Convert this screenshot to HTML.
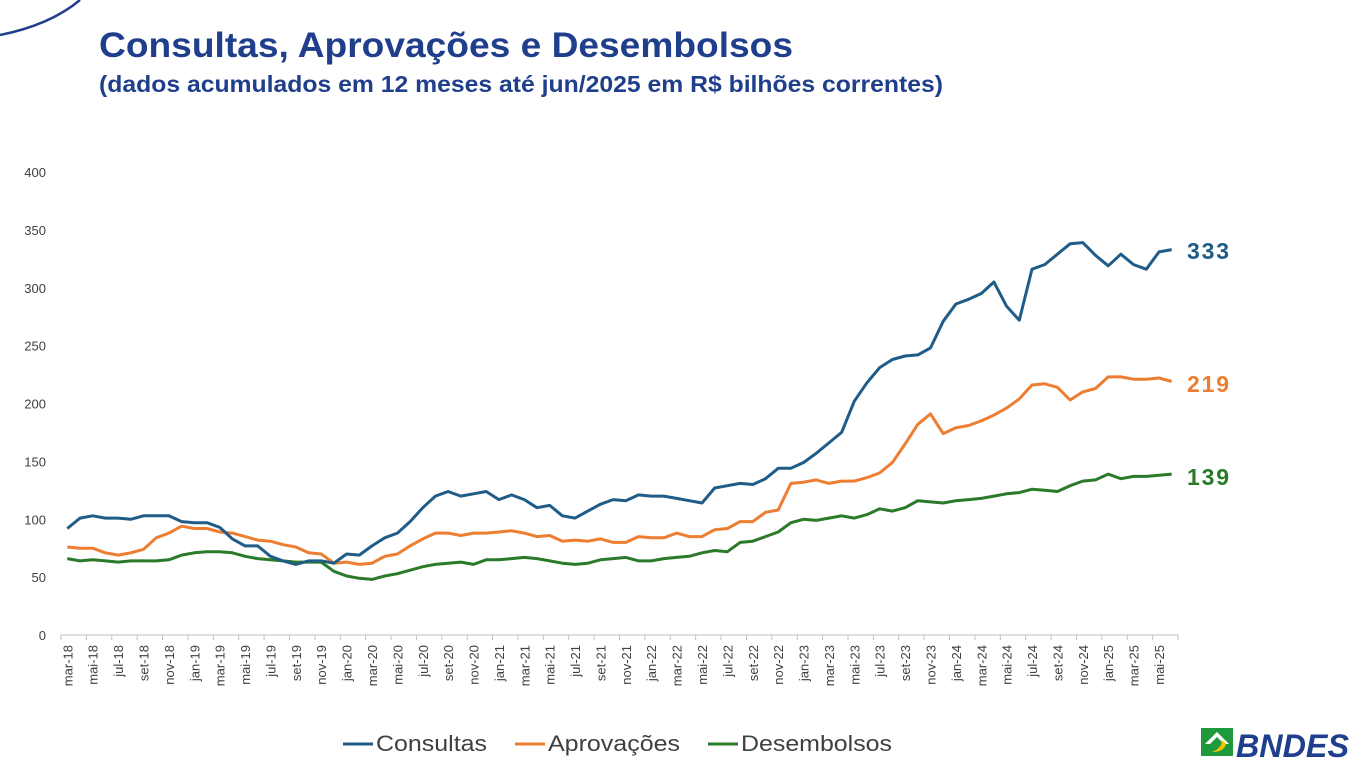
<!DOCTYPE html>
<html><head><meta charset="utf-8"><style>
body{margin:0;width:1358px;height:769px;background:#fff;overflow:hidden;font-family:"Liberation Sans",Arial,sans-serif;}
</style></head><body>
<svg id="s" width="1358" height="769" xmlns="http://www.w3.org/2000/svg" font-family="Liberation Sans, Arial, sans-serif">
<path d="M0,35 Q50,25 80,0" fill="none" stroke="#1f3e8c" stroke-width="2.5"/>
<text x="99" y="57" font-size="35" font-weight="bold" fill="#1f3e8c" textLength="694" lengthAdjust="spacingAndGlyphs">Consultas, Aprovações e Desembolsos</text>
<text x="99" y="92" font-size="23" font-weight="bold" fill="#1f3e8c" textLength="844" lengthAdjust="spacingAndGlyphs">(dados acumulados em 12 meses até jun/2025 em R$ bilhões correntes)</text>
<g id="ax" font-size="13" fill="#404040"></g>
<g id="ln"></g>
<text x="1187" y="259" font-size="23" font-weight="bold" fill="#1f5c87" textLength="42">333</text>
<text x="1187" y="392" font-size="23" font-weight="bold" fill="#ed7d31" textLength="42">219</text>
<text x="1187" y="485" font-size="23" font-weight="bold" fill="#2a7a2a" textLength="42">139</text>
<g font-size="22" fill="#404040">
<line x1="343" y1="744" x2="373" y2="744" stroke="#1f5c87" stroke-width="3"/><text x="376" y="751" textLength="111" lengthAdjust="spacingAndGlyphs">Consultas</text>
<line x1="515" y1="744" x2="545" y2="744" stroke="#ed7d31" stroke-width="3"/><text x="548" y="751" textLength="132" lengthAdjust="spacingAndGlyphs">Aprovações</text>
<line x1="708" y1="744" x2="738" y2="744" stroke="#2a7a2a" stroke-width="3"/><text x="741" y="751" textLength="151" lengthAdjust="spacingAndGlyphs">Desembolsos</text>
</g>
<rect x="1201" y="728" width="32" height="28" fill="#1e9a3c"/>
<path d="M1205,744 L1217,732 L1229,744 L1224,744 L1217,737 L1210,744 Z" fill="#fff"/>
<path d="M1212,752 Q1222,748 1222,740 L1226,744 Q1224,752 1212,752 Z" fill="#f4c400"/>
<text x="1236" y="757" font-size="32" font-weight="bold" font-style="italic" fill="#1f3e8c" textLength="113" lengthAdjust="spacingAndGlyphs">BNDES</text>
</svg>
<script>
var C=[92,101,103,101,101,100,103,103,103,98,97,97,93,83,77,77,68,64,61,64,64,62,70,69,77,84,88,98,110,120,124,120,122,124,117,121,117,110,112,103,101,107,113,117,116,121,120,120,118,116,114,127,129,131,130,135,144,144,149,157,166,175,202,218,231,238,241,242,248,271,286,290,295,305,284,272,316,320,329,338,339,328,319,329,320,316,331,333];
var A=[76,75,75,71,69,71,74,84,88,94,92,92,89,88,85,82,81,78,76,71,70,62,63,61,62,68,70,77,83,88,88,86,88,88,89,90,88,85,86,81,82,81,83,80,80,85,84,84,88,85,85,91,92,98,98,106,108,131,132,134,131,133,133,136,140,149,165,182,191,174,179,181,185,190,196,204,216,217,214,203,210,213,223,223,221,221,222,219];
var D=[66,64,65,64,63,64,64,64,65,69,71,72,72,71,68,66,65,64,63,63,63,55,51,49,48,51,53,56,59,61,62,63,61,65,65,66,67,66,64,62,61,62,65,66,67,64,64,66,67,68,71,73,72,80,81,85,89,97,100,99,101,103,101,104,109,107,110,116,115,114,116,117,118,120,122,123,126,125,124,129,133,134,139,135,137,137,138,139];
var w=1117/88;
function X(i){return 61+w/2+w*i}function Y(v){return 635-v*463/400}
var ax=document.getElementById('ax'),h='';
for(var v=0;v<=400;v+=50)h+='<text x="46" y="'+(Y(v)+5)+'" text-anchor="end">'+v+'</text>';
h+='<line x1="61" y1="635" x2="1178" y2="635" stroke="#bfbfbf" stroke-width="1"/>';
var m=['jan','fev','mar','abr','mai','jun','jul','ago','set','out','nov','dez'];
for(var i=0;i<88;i+=2){var tx=61+w*i;h+='<line x1="'+tx+'" y1="635" x2="'+tx+'" y2="640" stroke="#bfbfbf"/>';
var mi=(i+2)%12,yr=18+Math.floor((i+2)/12);var cx=X(i)+5;
h+='<text transform="translate('+cx+',645) rotate(-90)" text-anchor="end" font-size="13">'+m[mi]+'-'+yr+'</text>';}
h+='<line x1="1178" y1="635" x2="1178" y2="640" stroke="#bfbfbf"/>';
ax.innerHTML=h;
function P(d,c){var s='';for(var i=0;i<d.length;i++)s+=(i?'L':'M')+X(i).toFixed(1)+','+Y(d[i]).toFixed(1);return '<path d="'+s+'" fill="none" stroke="'+c+'" stroke-width="3" stroke-linejoin="round"/>';}
document.getElementById('ln').innerHTML=P(D,'#2a7a2a')+P(A,'#ed7d31')+P(C,'#1f5c87');
</script>
</body></html>
